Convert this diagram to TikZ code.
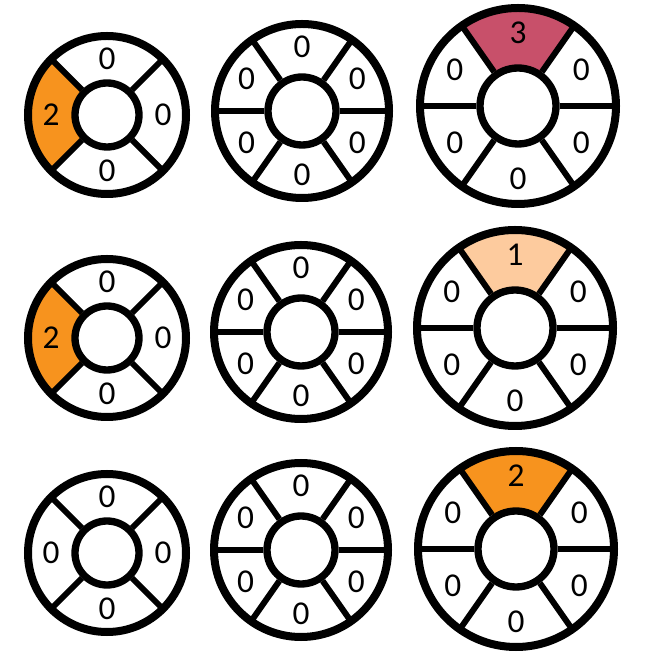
\documentclass[tikz,border=0pt]{standalone}
\usepackage{fontspec}
\setmainfont{Carlito}
\definecolor{ringorange}{HTML}{F7931E}
\definecolor{ringrose}{HTML}{C8506A}
\definecolor{ringpeach}{HTML}{FDCB9E}
\tikzset{
	rim/.style={line width=6pt},
	spoke/.style={line width=4.5pt},
	hub/.style={draw, circle, fill=white, line width=5.5pt, inner sep=0pt},
	num/.style={font=\fontsize{25}{25}\selectfont, inner sep=0pt},
}
\begin{document}
\begin{tikzpicture}[x=0.75pt, y=0.75pt]
		\useasboundingbox (0,0) rectangle (646,660);
		% row 1
		\coordinate (w1) at (107,545);
		\coordinate (w2) at (302,549);
		\coordinate (w3) at (518,554);
		\fill[ringorange] ([shift={(135:79)}]w1) arc[start angle=135, end angle=225, radius=79] -- ([shift={(225:32)}]w1) arc[start angle=225, end angle=135, radius=32] -- cycle;
		\fill[ringrose] ([shift={(55:98)}]w3) arc[start angle=55, end angle=125, radius=98] -- ([shift={(125:38)}]w3) arc[start angle=125, end angle=55, radius=38] -- cycle;
		\draw[rim] (w1) circle[radius=79];
		\draw[rim] (w2) circle[radius=87];
		\draw[rim] (w3) circle[radius=98];
		\node[hub, minimum size=48pt] (h1) at (w1) {};
		\node[hub, minimum size=51pt] (h2) at (w2) {};
		\node[hub, minimum size=57pt] (h3) at (w3) {};
		\foreach \a in {45,135,225,315} \draw[spoke] (h1.\a) -- ([shift={(\a:79)}]w1);
		\foreach \a in {0,55,125,180,235,305} \draw[spoke] (h2.\a) -- ([shift={(\a:87)}]w2);
		\foreach \a in {0,55,125,180,235,305} \draw[spoke] (h3.\a) -- ([shift={(\a:98)}]w3);
		\foreach \a/\t in {90/0,180/2,270/0,0/0} \node[num] at ([shift={(\a:56)}]w1) {\t};
		\foreach \a/\t in {90/0,150/0,210/0,270/0,330/0,30/0} \node[num] at ([shift={(\a:64)}]w2) {\t};
		\foreach \a/\t in {90/3,150/0,210/0,270/0,330/0,30/0} \node[num] at ([shift={(\a:73)}]w3) {\t};
		
		% row 2
		\coordinate (w4) at (107,322);
		\coordinate (w5) at (301,328);
		\coordinate (w6) at (515,332);
		\fill[ringorange] ([shift={(135:79)}]w4) arc[start angle=135, end angle=225, radius=79] -- ([shift={(225:32)}]w4) arc[start angle=225, end angle=135, radius=32] -- cycle;
		\fill[ringpeach] ([shift={(55:98)}]w6) arc[start angle=55, end angle=125, radius=98] -- ([shift={(125:38)}]w6) arc[start angle=125, end angle=55, radius=38] -- cycle;
		\draw[rim] (w4) circle[radius=79];
		\draw[rim] (w5) circle[radius=87];
		\draw[rim] (w6) circle[radius=98];
		\node[hub, minimum size=48pt] (h4) at (w4) {};
		\node[hub, minimum size=51pt] (h5) at (w5) {};
		\node[hub, minimum size=57pt] (h6) at (w6) {};
		\foreach \a in {45,135,225,315} \draw[spoke] (h4.\a) -- ([shift={(\a:79)}]w4);
		\foreach \a in {0,55,125,180,235,305} \draw[spoke] (h5.\a) -- ([shift={(\a:87)}]w5);
		\foreach \a in {0,55,125,180,235,305} \draw[spoke] (h6.\a) -- ([shift={(\a:98)}]w6);
		\foreach \a/\t in {90/0,180/2,270/0,0/0} \node[num] at ([shift={(\a:56)}]w4) {\t};
		\foreach \a/\t in {90/0,150/0,210/0,270/0,330/0,30/0} \node[num] at ([shift={(\a:64)}]w5) {\t};
		\foreach \a/\t in {90/1,150/0,210/0,270/0,330/0,30/0} \node[num] at ([shift={(\a:73)}]w6) {\t};
		
		% row 3
		\coordinate (w7) at (107,107);
		\coordinate (w8) at (301,110);
		\coordinate (w9) at (516,111);
		\fill[ringorange] ([shift={(55:98)}]w9) arc[start angle=55, end angle=125, radius=98] -- ([shift={(125:38)}]w9) arc[start angle=125, end angle=55, radius=38] -- cycle;
		\draw[rim] (w7) circle[radius=79];
		\draw[rim] (w8) circle[radius=87];
		\draw[rim] (w9) circle[radius=98];
		\node[hub, minimum size=48pt] (h7) at (w7) {};
		\node[hub, minimum size=51pt] (h8) at (w8) {};
		\node[hub, minimum size=57pt] (h9) at (w9) {};
		\foreach \a in {45,135,225,315} \draw[spoke] (h7.\a) -- ([shift={(\a:79)}]w7);
		\foreach \a in {0,55,125,180,235,305} \draw[spoke] (h8.\a) -- ([shift={(\a:87)}]w8);
		\foreach \a in {0,55,125,180,235,305} \draw[spoke] (h9.\a) -- ([shift={(\a:98)}]w9);
		\foreach \a/\t in {90/0,180/0,270/0,0/0} \node[num] at ([shift={(\a:56)}]w7) {\t};
		\foreach \a/\t in {90/0,150/0,210/0,270/0,330/0,30/0} \node[num] at ([shift={(\a:64)}]w8) {\t};
		\foreach \a/\t in {90/2,150/0,210/0,270/0,330/0,30/0} \node[num] at ([shift={(\a:73)}]w9) {\t};
		
	\end{tikzpicture}
\end{document}
